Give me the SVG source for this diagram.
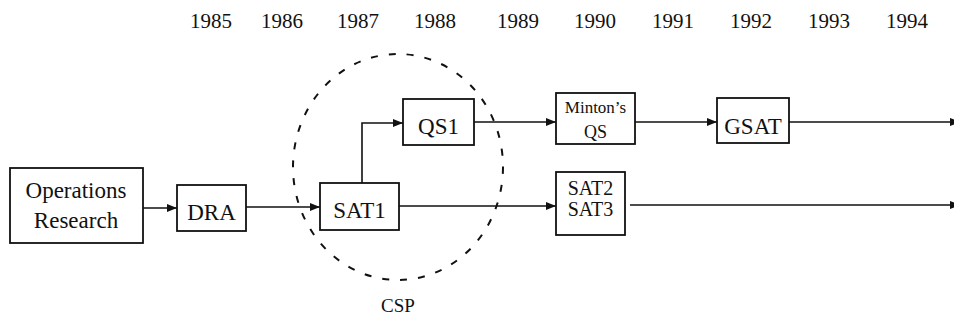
<svg xmlns="http://www.w3.org/2000/svg" width="954" height="324" viewBox="0 0 954 324">
<style>
  text { font-family: "Liberation Serif", "DejaVu Serif", "Times New Roman", serif; fill: #111; }
  .yr { font-size: 21px; text-anchor: middle; }
  .lbl { font-size: 23px; text-anchor: middle; }
  .sm { font-size: 17px; text-anchor: middle; }
  .box { fill: #fff; stroke: #111; stroke-width: 1.8; }
  .conn { fill: none; stroke: #111; stroke-width: 1.6; }
</style>
<defs>
  <marker id="ah" viewBox="0 0 10 8" refX="10" refY="4" markerWidth="10" markerHeight="8" markerUnits="userSpaceOnUse" orient="auto">
    <path d="M0,0 L10,4 L0,8 Z" fill="#111"/>
  </marker>
</defs>
<rect width="954" height="324" fill="#fff"/>
<g id="years">
  <text class="yr" x="211" y="28">1985</text>
  <text class="yr" x="282" y="28">1986</text>
  <text class="yr" x="358" y="28">1987</text>
  <text class="yr" x="435" y="28">1988</text>
  <text class="yr" x="518" y="28">1989</text>
  <text class="yr" x="595" y="28">1990</text>
  <text class="yr" x="673" y="28">1991</text>
  <text class="yr" x="751" y="28">1992</text>
  <text class="yr" x="829" y="28">1993</text>
  <text class="yr" x="907" y="28">1994</text>
</g>
<g id="csp">
  <ellipse cx="398" cy="167" rx="105" ry="113" fill="none" stroke="#111" stroke-width="2" stroke-dasharray="7 11"/>
  <text class="sm" x="398" y="312" style="font-size:19px">CSP</text>
</g>
<g id="connectors">
  <line class="conn" x1="143" y1="208" x2="177" y2="208" marker-end="url(#ah)"/>
  <line class="conn" x1="246" y1="207" x2="320" y2="207" marker-end="url(#ah)"/>
  <polyline class="conn" points="362,183 362,123 403,123" marker-end="url(#ah)"/>
  <line class="conn" x1="474" y1="122" x2="556" y2="122" marker-end="url(#ah)"/>
  <line class="conn" x1="399" y1="206" x2="556" y2="206" marker-end="url(#ah)"/>
  <line class="conn" x1="635" y1="122" x2="717" y2="122" marker-end="url(#ah)"/>
  <line class="conn" x1="789" y1="122" x2="960" y2="122" marker-end="url(#ah)"/>
  <line class="conn" x1="630" y1="205" x2="960" y2="205" marker-end="url(#ah)"/>
</g>
<g id="opres">
  <rect class="box" x="10" y="168" width="133" height="75"/>
  <text class="lbl" x="76" y="198">Operations</text>
  <text class="lbl" x="76" y="228">Research</text>
</g>
<g id="dra">
  <rect class="box" x="177" y="185" width="69" height="46"/>
  <text class="lbl" x="211.5" y="220">DRA</text>
</g>
<g id="sat1">
  <rect class="box" x="320" y="183" width="79" height="47"/>
  <text class="lbl" x="359.5" y="218">SAT1</text>
</g>
<g id="qs1">
  <rect class="box" x="403" y="99" width="71" height="46"/>
  <text class="lbl" x="438.5" y="134">QS1</text>
</g>
<g id="minton">
  <rect class="box" x="556" y="93" width="79" height="51"/>
  <text class="sm" x="595.5" y="113">Minton’s</text>
  <text class="sm" x="595.5" y="138" style="font-size:18px">QS</text>
</g>
<g id="gsat">
  <rect class="box" x="717" y="98" width="72" height="45"/>
  <text class="lbl" x="753" y="134">GSAT</text>
</g>
<g id="sat23">
  <rect class="box" x="556" y="172" width="69" height="63"/>
  <text class="lbl" x="590.5" y="195" style="font-size:20px">SAT2</text>
  <text class="lbl" x="590.5" y="216" style="font-size:20px">SAT3</text>
</g>
</svg>
